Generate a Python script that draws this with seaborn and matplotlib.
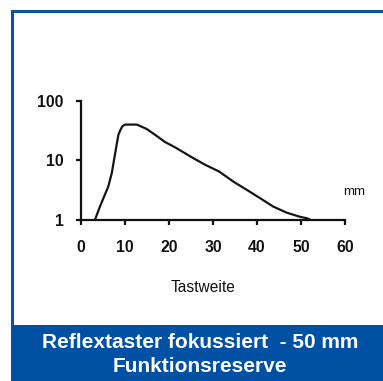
import matplotlib
matplotlib.use("Agg")
import matplotlib.pyplot as plt
from matplotlib.patches import Rectangle
from matplotlib.ticker import FixedLocator, NullLocator, FixedFormatter
import seaborn as sns
import pandas as pd

# Data
tastweite_mm = [3.2, 4.3, 6.2, 7.0, 7.9, 8.5, 9.0, 9.4, 10.0, 12.7, 14.9, 16.8, 19.1,
                21.4, 25.2, 28.2, 31.4, 34.6, 37.7, 40.7, 43.7, 46.8, 49.8, 51.3, 52.0]
funktionsreserve = [1.0, 1.65, 3.6, 6.1, 15, 27, 33, 37.4, 40, 40, 33.8, 27, 20.3,
                    16.5, 11.2, 8.4, 6.45, 4.37, 3.16, 2.29, 1.65, 1.3, 1.11, 1.05, 1.0]
x_ticks = [0, 10, 20, 30, 40, 50, 60]
y_ticks = [1, 10, 100]
y_tick_labels = ["1", "10", "100"]
title_lines = ["Reflextaster fokussiert  - 50 mm", "Funktionsreserve"]
x_label = "Tastweite"
unit_label = "mm"

sns.set_theme(style="white")
plt.rcParams['font.family'] = ['Liberation Sans', 'DejaVu Sans']

W, H = 383, 381
fig = plt.figure(figsize=(W / 100, H / 100), dpi=100)
fig.patch.set_facecolor("white")

blue = "#0a52a6"
# border lines
fig.patches.append(Rectangle((11 / W, 0), 3 / W, 1 - 10 / H, transform=fig.transFigure,
                             facecolor=blue, edgecolor="none", zorder=0))
fig.patches.append(Rectangle((11 / W, 1 - 13 / H), 1, 3 / H, transform=fig.transFigure,
                             facecolor=blue, edgecolor="none", zorder=0))
# banner
fig.patches.append(Rectangle((11 / W, 0), 1, 56 / H, transform=fig.transFigure,
                             facecolor="#0050a4", edgecolor="none", zorder=1))

ax = fig.add_axes([81 / W, (H - 219.5) / H, (345 - 81) / W, (219.5 - 101) / H])
df = pd.DataFrame({"x": tastweite_mm, "y": funktionsreserve})
sns.lineplot(data=df, x="x", y="y", ax=ax, color="#151515", linewidth=1.6,
             sort=False, estimator=None)
for ln in ax.lines:
    ln.set_solid_joinstyle("round")
    ln.set_solid_capstyle("round")
ax.set_yscale("log")
ax.set_xlim(0, 60)
ax.set_ylim(1, 100)
ax.set_facecolor("none")
ax.set_xlabel("")
ax.set_ylabel("")
for s in ["top", "right"]:
    ax.spines[s].set_visible(False)
for s in ["left", "bottom"]:
    ax.spines[s].set_linewidth(1.6)
    ax.spines[s].set_color("#111111")
ax.xaxis.set_major_locator(FixedLocator(x_ticks))
ax.yaxis.set_major_locator(FixedLocator(y_ticks))
ax.yaxis.set_major_formatter(FixedFormatter(y_tick_labels))
ax.yaxis.set_minor_locator(NullLocator())
ax.tick_params(axis="both", which="major", length=3.5, width=1.6, color="#111111",
               labelsize=11.3, bottom=True, left=True)
for lab in ax.get_xticklabels() + ax.get_yticklabels():
    lab.set_fontweight("bold")
    lab.set_color("#111111")
ax.tick_params(axis="x", pad=11)
ax.tick_params(axis="y", pad=9)

fig.text(203 / W, 1 - 287 / H, x_label, ha="center", va="center", fontsize=11.2, color="#111111")
fig.text(354 / W, 1 - 192 / H, unit_label, ha="center", va="center", fontsize=9.5, color="#111111")
fig.text(200 / W, 1 - 342 / H, title_lines[0], ha="center", va="center", fontsize=15,
         fontweight="bold", color="white")
fig.text(200 / W, 1 - 366 / H, title_lines[1], ha="center", va="center", fontsize=15,
         fontweight="bold", color="white")

fig.savefig("out.png", dpi=100)
